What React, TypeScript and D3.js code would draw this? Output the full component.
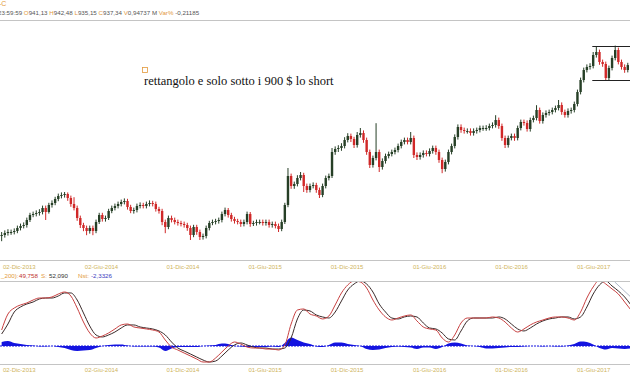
import React from "react";
import * as d3 from "d3";

const W = 630;
const H = 380;

// Weekly bars (Fridays), starting 29 Nov 2013; open = previous close
const weekStart = new Date(2013, 10, 29);
const closes = [
  512.5, 517.5, 520, 520, 522.5, 530, 535, 537.5, 550, 562.5,
  565, 567.5, 570, 580, 570, 587.5, 592.5, 602.5, 610, 612.5,
  615, 605, 590, 580, 555, 537.5, 530, 522.5, 530, 522.5,
  545, 562.5, 552.5, 555, 572.5, 580, 585, 590, 595, 597.5,
  582.5, 572.5, 575, 585, 587.5, 585, 590, 592.5, 590, 577.5,
  572.5, 545, 532.5, 555, 550, 545, 542.5, 540, 537.5, 530,
  512.5, 532.5, 520, 507.5, 510, 530, 542.5, 545, 547.5, 550,
  565, 575, 562.5, 552.5, 547.5, 545, 540, 545, 565, 540,
  542.5, 545, 545, 542.5, 545, 537.5, 540, 535, 527.5, 545,
  587.5, 660, 635, 640, 655, 662.5, 635, 625, 635, 637.5,
  625, 612.5, 635, 655, 660, 720, 727.5, 730, 735, 750,
  760, 752.5, 737.5, 762.5, 767.5, 750, 720, 687.5, 705, 720,
  682.5, 697.5, 710, 715, 720, 725, 735, 745, 750, 745,
  755, 712.5, 707.5, 712.5, 717.5, 715, 722.5, 730, 720, 700,
  677.5, 695, 720, 735, 757.5, 782.5, 775, 772.5, 772.5, 767.5,
  772.5, 775, 780, 780, 780, 785, 787.5, 800, 785, 755,
  737.5, 755, 760, 755, 780, 795, 792.5, 777.5, 800, 805,
  825, 797.5, 812.5, 817.5, 820, 825, 830, 837.5, 820, 812.5,
  822.5, 825, 840, 870, 900, 925, 932.5, 935, 962.5, 970,
  945, 940, 905, 930, 955, 975, 945, 932.5, 925, 937.34,
];
const highs = [
  520, 524, 527, 526, 529, 536, 541, 544, 556, 568,
  571, 574, 577, 586, 586, 593, 599, 608, 616, 619,
  620, 619, 611, 607, 586, 561, 543, 536, 536, 536,
  551, 568, 568, 561, 578, 586, 591, 596, 601, 604,
  603, 588, 581, 591, 594, 593, 596, 599, 598, 596,
  583, 578, 551, 561, 561, 556, 551, 548, 546, 543,
  536, 538, 538, 526, 516, 536, 548, 551, 553, 556,
  571, 581, 580, 568, 558, 553, 551, 551, 571, 570,
  548, 551, 551, 551, 551, 551, 546, 546, 541, 551,
  593, 680, 666, 646, 662, 670, 668, 641, 641, 644,
  643, 631, 641, 661, 666, 730, 734, 737, 742, 757,
  767, 766, 758, 770, 780, 774, 756, 726, 711, 792,
  726, 704, 716, 721, 726, 731, 741, 751, 756, 756,
  770, 761, 719, 719, 724, 724, 729, 736, 736, 726,
  706, 701, 726, 741, 764, 789, 789, 781, 779, 779,
  779, 781, 786, 786, 787, 791, 794, 812, 806, 791,
  761, 761, 766, 766, 786, 801, 801, 799, 806, 811,
  837, 831, 819, 824, 826, 831, 836, 850, 844, 826,
  829, 831, 846, 876, 906, 931, 939, 942, 970, 985,
  976, 951, 946, 936, 961, 986, 981, 951, 939, 943,
];
const lows = [
  497, 506, 511, 513, 514, 517, 524, 529, 531, 545,
  557, 559, 561, 564, 550, 566, 581, 587, 597, 604,
  606, 598, 583, 574, 548, 530, 522, 512, 516, 512,
  517, 540, 546, 546, 550, 567, 574, 579, 584, 589,
  576, 567, 566, 569, 579, 579, 579, 584, 584, 571,
  566, 537, 517, 527, 544, 539, 536, 534, 531, 523,
  500, 507, 513, 500, 501, 504, 524, 537, 539, 541,
  544, 559, 556, 546, 541, 539, 533, 534, 539, 533,
  535, 536, 539, 536, 536, 531, 531, 529, 520, 522,
  540, 582, 628, 628, 634, 649, 620, 618, 619, 629,
  618, 605, 607, 629, 649, 655, 713, 720, 723, 729,
  744, 745, 730, 731, 756, 743, 713, 680, 681, 699,
  670, 676, 691, 704, 709, 714, 719, 729, 739, 739,
  739, 705, 700, 701, 706, 709, 709, 716, 713, 693,
  667, 671, 689, 714, 729, 751, 768, 766, 766, 761,
  761, 766, 769, 773, 773, 774, 779, 781, 778, 748,
  730, 731, 749, 748, 749, 774, 786, 771, 771, 794,
  799, 791, 791, 806, 811, 814, 819, 824, 813, 806,
  806, 816, 819, 834, 864, 894, 919, 926, 929, 956,
  938, 933, 898, 899, 924, 949, 939, 926, 918, 919,
];

// Oscillator (two-weekly samples)
const oscMain = [
  20, 40, 47.5, 51.3, 53.8, 57.5, 60, 60, 61.3, 65,
  67.5, 62.5, 47.5, 30, 16.3, 10, 12.5, 16.3, 21.3, 26.3,
  27.5, 23.8, 22.5, 21.3, 20, 17.5, 7.5, -1.3, -5, -8.8,
  -12.5, -16.3, -20, -20, -15, -7.5, 0, 5, 2.5, -1.3,
  -2.5, -2.5, -3.8, -3.8, -5, 1.3, 27.5, 45, 46.3, 40,
  37.5, 33.8, 37.5, 51.3, 66.3, 76.3, 81.3, 80, 72.5, 57.5,
  45, 36.3, 32.5, 35, 37.5, 38.8, 31.3, 23.8, 21.3, 20,
  10, 5, 13.8, 28.8, 35, 35, 35, 35, 36.3, 35,
  30, 22.5, 17.5, 21.3, 26.3, 30, 32.5, 35, 36.3, 36.3,
  35, 32.5, 42.5, 60, 73.8, 82.5, 77.5, 71.3, 65, 55,
  45,
];
const oscSignal = [
  15, 27.5, 42.5, 48.8, 52.5, 55, 58.8, 60, 60, 62.5,
  66.3, 66.3, 57.5, 41.3, 25, 13.8, 11.3, 13.8, 17.5, 22.5,
  26.3, 26.3, 23.8, 22.5, 21.3, 18.8, 13.8, 5, -2.5, -6.3,
  -10, -13.8, -17.5, -20, -18.8, -12.5, -5, 1.3, 3.8, 1.3,
  -1.3, -2.5, -2.5, -3.8, -3.8, -2.5, 10, 33.8, 45, 43.8,
  38.8, 36.3, 35, 42.5, 56.3, 70, 77.5, 81.3, 77.5, 67.5,
  52.5, 42.5, 35, 33.8, 36.3, 37.5, 36.3, 28.8, 22.5, 21.3,
  16.3, 8.8, 7.5, 18.8, 31.3, 35, 35, 35, 35, 36.3,
  33.8, 27.5, 21.3, 18.8, 22.5, 27.5, 31.3, 33.8, 35, 36.3,
  36.3, 33.8, 36.3, 48.8, 65, 76.3, 81.3, 75, 68.8, 61.3,
  51.3,
];
const oscHist = [
  5, 6.3, 3.8, 2.5, 1.3, 0.6, -0.6, -0.6, 0, -1.3,
  -2.5, -5, -6.3, -5.6, -5, -2.5, 0, 1.3, 1.9, 1.9,
  0.6, -0.6, -0.6, -0.6, -0.6, -1.9, -6.3, -3.1, -1.3, -1.3,
  -1.3, -1.3, 0, 0.6, 1.3, 3.1, 2.5, 0, -0.6, -1.3,
  -1.3, -1.3, -1.3, -0.6, -1.3, 3.8, 10.6, 7.5, 4.4, 2.5,
  -0.6, -1.3, 1.3, 4.4, 4.4, 2.5, 1.3, 0, -3.8, -5,
  -4.4, -2.5, -1.3, -0.6, -1.3, -1.9, -3.8, -1.9, -1.9, -3.8,
  -1.3, 3.1, 4.4, 3.1, 0.6, 0, -1.3, -3.1, -3.1, -2.5,
  -1.9, -1.3, -1.3, -0.6, 0, 0, -0.6, 0, -0.6, -0.6,
  0.6, 2.5, 5.6, 5, 1.9, -2.5, -4.4, -2.5, -3.1, -3.8,
  -3.1,
];

const tickDates = [
  new Date(2013, 11, 2), new Date(2014, 5, 2), new Date(2014, 11, 1), new Date(2015, 5, 1),
  new Date(2015, 11, 1), new Date(2016, 5, 1), new Date(2016, 11, 1), new Date(2017, 5, 1),
];
const tickLabels = [
  "02-Dic-2013", "02-Giu-2014", "01-Dic-2014", "01-Giu-2015",
  "01-Dic-2015", "01-Giu-2016", "01-Dic-2016", "01-Giu-2017",
];

const headerParts: [string, string][] = [
  ["23:59:59 ", "v"], ["O", "k"], ["941,13 ", "v"], ["H", "k"], ["942,48 ", "v"],
  ["L", "k"], ["935,15 ", "v"], ["C", "k"], ["937,34 ", "v"], ["V", "k"],
  ["0,94737 M ", "v"], ["Var% ", "k"], ["-0,21185", "v"],
];
const oscHeaderParts: [string, string][] = [
  ["_200):", "k"], ["49,758", "r"], ["S:", "k"], ["52,090", "d"],
  ["Nst:", "k"], ["-2,3326", "b"],
];
const oscHeaderX = [1, 19, 41, 49, 78, 91];

const rectDates = [new Date(2017, 6, 5), new Date(2017, 11, 30)];
const rectPrices = [900, 985];
const trendDates = [new Date(2017, 7, 24), new Date(2017, 9, 20)];
const trendValues = [80, 50];
const annotation = "rettangolo e solo sotto i 900 $ lo short";

const UP = "#263f26";
const DOWN = "#d02828";
const GOLD = "#cfb45c";
const ORANGE = "#e39a3c";
const GRID = "#c4c4c4";
const FONT = "'Liberation Sans', Arial, sans-serif";

export default function App() {
  const x = d3.scaleTime().domain([tickDates[0], tickDates[7]]).range([3, 577]);
  const yP = d3.scaleLinear().domain([500, 1000]).range([240, 40]);
  const yO = d3.scaleLinear().domain([0, 50]).range([346, 306]);

  const weekDates = closes.map((_, i) => d3.timeDay.offset(weekStart, 7 * i));
  const oscDates = oscMain.map((_, j) => d3.timeDay.offset(weekStart, 14 * j));

  const candles = closes.map((c, i) => {
    const o = i > 0 ? closes[i - 1] : c;
    const top = yP(Math.max(o, c));
    const bot = yP(Math.min(o, c));
    return {
      x: x(weekDates[i]),
      top,
      h: Math.max(1, bot - top),
      hi: yP(highs[i]),
      lo: yP(lows[i]),
      up: c >= o,
    };
  });

  const line = (vals: number[]) =>
    d3.line<number>().x((_, j) => x(oscDates[j])).y((v) => yO(v)).curve(d3.curveMonotoneX)(vals) || "";
  const histArea =
    d3.area<number>().x((_, j) => x(oscDates[j])).y0(yO(0)).y1((v) => yO(v)).curve(d3.curveMonotoneX)(oscHist) || "";

  const headerColor = (r: string) =>
    r === "k" ? ORANGE : r === "r" ? "#c03030" : r === "b" ? "#3a3ac0" : r === "d" ? "#333" : "#555";

  return (
    <svg width={W} height={H} style={{ position: "fixed", left: 0, top: 0, background: "#fff" }}>
      <defs>
        <clipPath id="pricePanel"><rect x={0} y={21} width={W} height={238} /></clipPath>
        <clipPath id="oscPanel"><rect x={0} y={282} width={W} height={82} /></clipPath>
      </defs>
      <rect x={0} y={0} width={W} height={H} fill="#fff" />

      {/* header */}
      <text x={-1} y={6} fontFamily={FONT} fontSize={7} fill={ORANGE}>-C</text>
      <text x={-2} y={14.5} fontFamily={FONT} fontSize={6.2} style={{ whiteSpace: "pre" }}>
        {headerParts.map(([t, r], i) => (
          <tspan key={i} fill={headerColor(r)}>{t}</tspan>
        ))}
      </text>
      <line x1={0} x2={W} y1={20.5} y2={20.5} stroke={GRID} />

      {/* price panel */}
      <g clipPath="url(#pricePanel)">
        {candles.map((c, i) => (
          <g key={i} fill={c.up ? UP : DOWN} stroke={c.up ? UP : DOWN}>
            <line x1={c.x} x2={c.x} y1={c.hi} y2={c.lo} strokeWidth={1} />
            <rect x={c.x - 1.2} y={c.top} width={2.4} height={c.h} stroke="none" />
          </g>
        ))}
        {rectPrices.map((p, i) => (
          <line key={i} x1={x(rectDates[0])} x2={x(rectDates[1])} y1={Math.round(yP(p)) + 0.5} y2={Math.round(yP(p)) + 0.5} stroke="#222" />
        ))}
      </g>
      <rect x={142.5} y={67.5} width={5} height={5} fill="none" stroke={ORANGE} strokeWidth={0.8} />
      <text x={144} y={85} fontFamily="'Liberation Serif', 'Times New Roman', serif" fontSize={12.5} fill="#111">{annotation}</text>

      {/* date axis top */}
      <line x1={0} x2={W} y1={260.5} y2={260.5} stroke={GRID} />
      {tickDates.map((d, i) => (
        <text key={i} x={x(d)} y={268.5} fontFamily={FONT} fontSize={6} fill={GOLD}>{tickLabels[i]}</text>
      ))}
      <text y={277.5} fontFamily={FONT} fontSize={6.2}>
        {oscHeaderParts.map(([t, r], i) => (
          <tspan key={i} x={oscHeaderX[i]} fill={headerColor(r)}>{t}</tspan>
        ))}
      </text>
      <line x1={0} x2={W} y1={281.5} y2={281.5} stroke={GRID} />

      {/* oscillator */}
      <g clipPath="url(#oscPanel)">
        <path d={histArea} fill="#1414e0" />
        <line x1={0} x2={W} y1={yO(0)} y2={yO(0)} stroke="#1414e0" strokeWidth={1.2} strokeDasharray="2 1" />
        <path d={line(oscSignal)} fill="none" stroke="#3a2a2a" strokeWidth={1} />
        <path d={line(oscMain)} fill="none" stroke="#c84040" strokeWidth={1} />
        <line x1={x(trendDates[0])} x2={x(trendDates[1])} y1={yO(trendValues[0])} y2={yO(trendValues[1])} stroke="#9aa4b8" strokeWidth={0.8} />
      </g>

      {/* date axis bottom */}
      <line x1={0} x2={W} y1={364.5} y2={364.5} stroke={GRID} />
      {tickDates.map((d, i) => (
        <text key={i} x={x(d)} y={372} fontFamily={FONT} fontSize={6} fill={GOLD}>{tickLabels[i]}</text>
      ))}
    </svg>
  );
}
